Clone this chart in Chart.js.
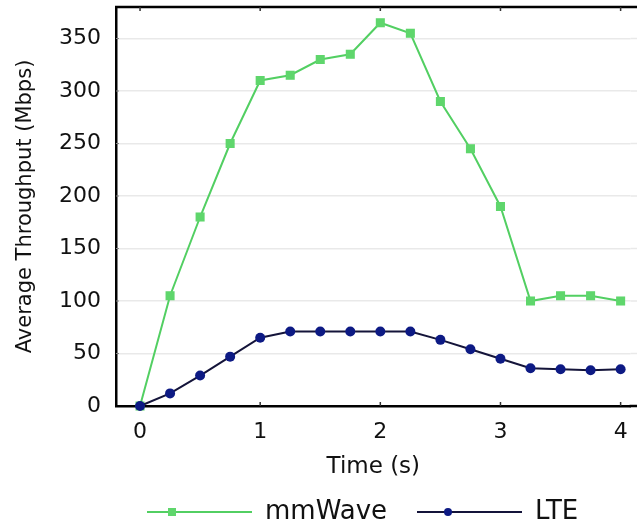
<!DOCTYPE html>
<html>
<head>
<meta charset="utf-8">
<script src="https://cdn.jsdelivr.net/npm/chart.js@4/dist/chart.umd.min.js"></script>
<style>
  html, body { margin: 0; padding: 0; background: #ffffff; overflow: hidden; }
  #wrap { position: relative; width: 637px; height: 527px; }
</style>
</head>
<body>
<div id="wrap"><canvas id="chart"></canvas></div>
<script>
// Time samples (s) and measured average throughput (Mbps)
const timeSteps = [0, 0.25, 0.5, 0.75, 1, 1.25, 1.5, 1.75, 2, 2.25, 2.5, 2.75, 3, 3.25, 3.5, 3.75, 4];
const mmWaveThroughput = [0, 105, 180, 250, 310, 315, 330, 335, 365, 355, 290, 245, 190, 100, 105, 105, 100];
const lteThroughput = [0, 12, 29, 47, 65, 71, 71, 71, 71, 71, 63, 54, 45, 36, 35, 34, 35];
const xTickValues = [0, 1, 2, 3, 4];
const yTickValues = [0, 50, 100, 150, 200, 250, 300, 350];
const seriesNames = ['mmWave', 'LTE'];

const GREEN = '#52cf62';
const GREEN_MARK = '#5fd66c';
const NAVY = '#0d1a84';
const NAVY_LINE = '#14143a';
const GRID = '#e9e9e9';
const FONT = '"DejaVu Sans", sans-serif';

const toPoints = (ys) => timeSteps.map((t, i) => ({ x: t, y: ys[i] }));

// Keep the plot area flush with the layout padding (no label overhang room)
const noOverhang = (s) => {
  s.paddingTop = 0; s.paddingBottom = 0; s.paddingLeft = 0; s.paddingRight = 0;
};

// Frame pieces the axes do not draw: top border, inward tick marks,
// and the frame/grid running on to the right edge of the canvas
const framePlugin = {
  id: 'frame',
  beforeDatasetsDraw(chart) {
    const { ctx, chartArea: a, scales: { x, y } } = chart;
    const edge = chart.width;
    ctx.save();
    ctx.strokeStyle = GRID;
    ctx.lineWidth = 1.5;
    yTickValues.slice(1).forEach(v => {
      const py = y.getPixelForValue(v);
      ctx.beginPath();
      ctx.moveTo(a.right, py);
      ctx.lineTo(edge, py);
      ctx.stroke();
    });
    ctx.strokeStyle = '#000';
    ctx.lineWidth = 2.5;
    ctx.beginPath();
    ctx.moveTo(a.left - 1, a.top);
    ctx.lineTo(edge, a.top);
    ctx.moveTo(a.right - 1, a.bottom);
    ctx.lineTo(edge, a.bottom);
    ctx.stroke();
    ctx.lineWidth = 1.5;
    ctx.strokeStyle = '#333';
    xTickValues.forEach(v => {
      const px = x.getPixelForValue(v);
      ctx.beginPath();
      ctx.moveTo(px, a.top);
      ctx.lineTo(px, a.top + 4);
      ctx.moveTo(px, a.bottom);
      ctx.lineTo(px, a.bottom - 4);
      ctx.stroke();
    });
    ctx.strokeStyle = '#888';
    ctx.lineWidth = 1;
    yTickValues.slice(1).forEach(v => {
      const py = y.getPixelForValue(v);
      ctx.beginPath();
      ctx.moveTo(a.left, py);
      ctx.lineTo(a.left + 3, py);
      ctx.stroke();
    });
    ctx.restore();
  }
};

// Legend row under the axis title
const legendPlugin = {
  id: 'legendRow',
  afterDraw(chart) {
    const { ctx } = chart;
    const cy = 512;
    const entries = [
      { name: seriesNames[0], x0: 147, x1: 252, mx: 172, line: GREEN, mark: GREEN_MARK, style: 'rect', tx: 265 },
      { name: seriesNames[1], x0: 417, x1: 522, mx: 448, line: NAVY_LINE, mark: NAVY, style: 'circle', tx: 535 }
    ];
    ctx.save();
    entries.forEach(e => {
      ctx.strokeStyle = e.line;
      ctx.lineWidth = 2;
      ctx.beginPath();
      ctx.moveTo(e.x0, cy);
      ctx.lineTo(e.x1, cy);
      ctx.stroke();
      ctx.fillStyle = e.mark;
      if (e.style === 'rect') {
        ctx.fillRect(e.mx - 4, cy - 4, 8, 8);
      } else {
        ctx.beginPath();
        ctx.arc(e.mx, cy, 4, 0, Math.PI * 2);
        ctx.fill();
      }
      ctx.fillStyle = '#111';
      ctx.font = '26px ' + FONT;
      ctx.textBaseline = 'middle';
      ctx.textAlign = 'left';
      ctx.fillText(e.name, e.tx, cy);
    });
    ctx.restore();
  }
};

new Chart(document.getElementById('chart'), {
  type: 'line',
  data: {
    datasets: [
      {
        label: seriesNames[0],
        data: toPoints(mmWaveThroughput),
        borderColor: GREEN,
        borderWidth: 2,
        pointStyle: 'rect',
        pointRadius: 6.4,
        pointBackgroundColor: GREEN_MARK,
        pointBorderColor: GREEN_MARK,
        pointBorderWidth: 0,
        tension: 0,
        clip: false,
        order: 1
      },
      {
        label: seriesNames[1],
        data: toPoints(lteThroughput),
        borderColor: NAVY_LINE,
        borderWidth: 2,
        pointStyle: 'circle',
        pointRadius: 5,
        pointBackgroundColor: NAVY,
        pointBorderColor: NAVY,
        pointBorderWidth: 0,
        tension: 0,
        clip: false,
        order: 0
      }
    ]
  },
  options: {
    responsive: true,
    maintainAspectRatio: false,
    animation: false,
    layout: { padding: { top: 7, right: 0, bottom: 46, left: 0 } },
    plugins: { legend: { display: false }, tooltip: { enabled: false } },
    scales: {
      x: {
        type: 'linear',
        min: -0.2,
        max: 4.083,
        afterFit: (s) => { s.height = 75; noOverhang(s); },
        afterBuildTicks: (s) => { s.ticks = xTickValues.map(v => ({ value: v })); },
        ticks: { font: { family: FONT, size: 22 }, color: '#111', padding: 13, includeBounds: false },
        grid: { drawOnChartArea: false, drawTicks: false },
        border: { display: true, color: '#000', width: 2.5 },
        title: { display: true, text: 'Time (s)', font: { family: FONT, size: 23 }, color: '#111', padding: { top: 0, bottom: 0 } }
      },
      y: {
        min: 0,
        max: 380,
        afterFit: (s) => { s.width = 116; noOverhang(s); },
        afterBuildTicks: (s) => { s.ticks = yTickValues.map(v => ({ value: v })); },
        ticks: { font: { family: FONT, size: 22 }, color: '#111', padding: 15 },
        grid: { color: GRID, lineWidth: 1.5, drawTicks: false },
        border: { display: true, color: '#000', width: 2.5 },
        title: { display: true, text: 'Average Throughput (Mbps)', font: { family: FONT, size: 21 }, color: '#111', padding: { top: 13, bottom: 0 } }
      }
    }
  },
  plugins: [framePlugin, legendPlugin]
});
</script>
</body>
</html>
